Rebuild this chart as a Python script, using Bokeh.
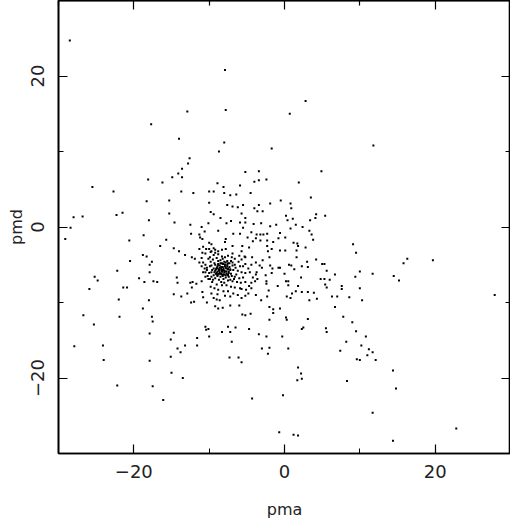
from bokeh.plotting import figure
from bokeh.models import LinearAxis, Range1d, FixedTicker, ColumnDataSource
from bokeh.embed import file_html
from bokeh.resources import INLINE

# ---- data: proper motions (pma, pmd) ----
top_pma = [-28.5, -12.9, -17.7, -14.0, -7.9, 2.8, -7.8, 0.7, -8.0, -1.7, -8.7, 11.8]
top_pmd = [24.7, 15.3, 13.6, 11.7, 20.8, 16.7, 15.5, 15.0, 11.2, 10.4, 10.0, 10.8]

west_pma = [-12.6, -12.8, -13.6, -14.1, -13.6, -14.9, -18.1, -16.2, -25.5, -22.7,
            -13.7, -12.1, -10.0, -18.3, -15.3, -10.0, -21.5, -22.3, -15.3, -28.0,
            -26.8, -18.0, -14.6, -12.5, -10.1, -11.0, -28.4, -18.7, -12.4, -11.3,
            -10.6, -29.1, -20.6, -15.7, -11.2, -10.9, -10.0, -16.5, -14.7, -14.0,
            -13.2, -10.8, -10.4, -11.3, -10.9, -10.5, -18.8, -18.3, -12.3, -11.9,
            -11.0, -10.1, -20.5, -17.6, -11.3, -10.8, -14.5, -17.9, -11.0, -10.5,
            -10.6, -10.3, -22.2, -17.9, -10.8, -10.0, -25.2, -24.8, -19.3, -14.3,
            -10.5, -10.1, -17.4, -18.6, -16.9, -14.2, -12.5, -12.2, -11.7, -11.0,
            -12.3, -25.9, -21.4, -20.9, -10.9, -14.7, -13.7, -12.9, -10.8, -22.0,
            -18.0, -12.4, -12.0, -10.3]
west_pmd = [9.1, 8.4, 7.7, 7.1, 6.6, 6.6, 6.3, 5.9, 5.3, 4.7,
            4.7, 4.5, 4.7, 3.4, 3.5, 3.2, 1.9, 1.6, 1.8, 1.3,
            1.4, 0.9, 0.6, 0.3, 0.5, 0.0, -0.1, -1.1, -0.9, -1.0,
            -0.6, -1.6, -1.8, -1.7, -1.4, -1.6, -2.1, -2.5, -2.8, -3.2,
            -3.7, -2.6, -2.9, -2.9, -3.4, -3.5, -3.7, -3.9, -4.0, -4.2,
            -4.1, -4.2, -4.5, -4.6, -4.7, -4.7, -4.8, -5.0, -5.2, -5.0,
            -5.5, -5.7, -5.8, -6.0, -6.0, -6.1, -6.6, -7.1, -6.8, -6.7,
            -6.6, -6.9, -7.2, -7.3, -7.3, -7.4, -7.4, -7.3, -7.5, -7.2,
            -8.0, -8.2, -8.0, -8.0, -8.6, -8.9, -9.2, -8.8, -9.3, -9.6,
            -9.7, -10.0, -9.9, -10.0]

southwest_pma = [-18.8, -26.7, -21.9, -17.6, -17.5, -25.3, -10.5, -10.4, -10.1, -17.9,
                 -14.7, -15.1, -11.6, -10.0, -27.9, -24.1, -14.2, -13.2, -11.6, -13.8,
                 -15.1, -24.0, -17.9, -15.0, -13.5, -22.2, -17.5, -16.1]
southwest_pmd = [-10.8, -11.7, -11.9, -11.9, -12.5, -12.9, -13.2, -13.6, -13.5, -14.1,
                 -14.0, -14.9, -14.7, -14.5, -15.8, -15.7, -16.1, -15.7, -15.7, -16.6,
                 -17.2, -17.6, -17.7, -19.3, -20.0, -21.0, -21.1, -22.9]

east_pma = [16.3, 19.7, 15.8, 10.0, 11.7, 14.5, 15.2, 10.0, 10.3, 27.9]
east_pmd = [-4.2, -4.4, -4.8, -5.9, -6.2, -6.5, -7.1, -8.1, -9.7, -9.0]

centre_pma = [-5.2, -3.4, 4.9, -4.0, -3.4, -2.4, 1.9, -8.9, -5.9, -8.1,
              -9.4, -8.0, -7.2, -6.4, -4.5, 3.5, -0.5, -7.6, -6.9, -6.2,
              -5.5, -3.4, -1.9, 0.8, -4.0, 0.9, -3.6, -2.9, -9.8, -9.4,
              -5.7, 4.2, 5.4, 0.2, -8.5, -5.2, 1.1, 4.1, 0.4, 3.4,
              -7.1, -7.7, -5.9, -5.2, -4.1, -3.1, -1.1, -1.9, 1.5, 0.8,
              2.4, -8.8, -5.5, 3.3, -6.8, -5.9, -4.4, -3.7, -3.2, -2.8,
              -2.3, -0.6, 3.6, -7.8, -4.9, -3.8, -3.2, -2.3, -0.8, 0.1,
              3.8, -7.9, -4.2, -1.5, 1.2, 1.7, 9.1, -9.7, -6.9, -5.6,
              -2.3, 1.8, -4.7, 2.8, -9.4, -7.8, -1.7, -8.3, -0.6, 0.1,
              1.6, -2.2, -5.7, 9.5, -9.8, -9.2, -8.8, -6.9, -4.3, -2.0,
              1.6, 4.2, -8.2, -6.0, -5.3, -3.8, -2.9, 0.6, 0.9, 3.0,
              5.3, 5.0, -5.2, -1.9, -3.3, 2.3, 3.1, -0.8, -0.6, 1.3,
              -1.6, -3.0, -3.7, 5.6, -1.7, -4.2, -3.8, -2.5, 0.0, 6.7,
              9.4, 2.2, 4.8, 5.3, 6.0, -3.6, -2.4, 0.2, 0.5, 5.4,
              -2.4, 0.5, 1.8, -0.9, 7.6, 7.6, 5.6, -4.7, -5.7, -5.1,
              -2.1, 1.0, 1.5, 2.3, 3.1, 3.9, -3.8, -2.3, 0.3, 6.3,
              7.0, 8.6, -6.2, -3.1, 0.8, 3.3, 4.3, -9.0, -8.6]
centre_pmd = [7.3, 7.4, 7.4, 6.0, 6.2, 6.3, 5.9, 5.8, 5.5, 5.3,
              4.7, 4.5, 4.2, 4.3, 4.5, 3.9, 3.5, 2.9, 2.7, 2.6,
              2.9, 2.9, 3.1, 3.1, 2.5, 2.5, 2.1, 2.1, 2.0, 1.7,
              1.8, 1.7, 1.5, 1.5, 1.2, 1.2, 1.1, 1.2, 0.9, 0.9,
              0.8, 0.5, 0.6, 0.6, 0.4, 0.5, 0.3, 0.1, 0.3, -0.2,
              0.0, -0.5, -0.1, -0.5, -0.9, -0.9, -0.7, -1.0, -1.0, -1.0,
              -0.9, -0.8, -1.0, -1.6, -1.4, -1.5, -1.8, -1.8, -1.5, -1.4,
              -1.7, -2.0, -1.9, -2.0, -2.1, -2.2, -2.3, -2.3, -2.5, -2.5,
              -2.5, -2.5, -2.7, -2.7, -2.8, -2.9, -2.9, -3.0, -3.1, -3.1,
              -3.1, -3.2, -3.2, -3.4, -3.3, -3.4, -3.6, -3.5, -4.0, -4.0,
              -4.0, -4.3, -4.2, -3.8, -3.9, -4.7, -4.4, -5.0, -5.1, -4.6,
              -4.9, -4.9, -4.9, -5.1, -5.1, -5.2, -5.3, -5.4, -5.4, -5.6,
              -5.5, -5.4, -6.0, -5.8, -6.1, -6.7, -6.3, -6.4, -6.2, -6.3,
              -6.6, -6.7, -6.9, -6.9, -7.0, -6.9, -7.2, -7.2, -7.2, -7.6,
              -7.5, -7.7, -7.8, -7.8, -7.8, -8.2, -8.0, -7.8, -8.2, -8.3,
              -8.4, -8.8, -8.5, -8.6, -8.6, -8.7, -9.0, -9.2, -9.2, -9.2,
              -9.2, -9.3, -9.0, -9.7, -9.4, -9.7, -9.5, -9.6, -9.7]

cluster_pma = [-10.0, -9.7, -9.2, -8.8, -9.4, -9.9, -9.0, -8.3, -7.9, -7.5,
               -7.0, -6.6, -6.1, -5.7, -5.2, -9.8, -9.3, -8.8, -8.3, -7.8,
               -7.3, -6.9, -6.6, -5.9, -5.5, -4.8, -4.4, -9.9, -9.4, -8.9,
               -8.3, -7.7, -7.2, -6.8, -6.2, -5.7, -5.2, -4.6, -9.7, -9.1,
               -8.5, -8.0, -7.5, -7.1, -6.6, -6.0, -5.5, -9.7, -9.2, -8.7,
               -8.1, -7.5, -6.9, -6.3, -5.8, -5.2, -9.6, -9.0, -8.3, -7.7,
               -7.1, -6.6, -5.9, -9.8, -9.3, -8.8, -8.1, -7.5, -6.8, -9.7,
               -8.9, -7.9, -7.2, -5.2, -4.8, -4.4, -3.9, -4.4, -5.7, -9.4]
cluster_pmd = [-2.9, -3.2, -3.0, -3.2, -3.7, -4.0, -4.1, -3.9, -4.0, -3.8,
               -4.0, -4.2, -4.6, -4.3, -4.0, -4.6, -4.8, -5.0, -4.8, -4.7,
               -4.8, -4.7, -5.0, -5.2, -5.2, -5.5, -5.0, -5.2, -5.5, -5.5,
               -5.7, -5.5, -5.7, -5.7, -5.8, -6.0, -6.1, -6.0, -6.0, -6.2,
               -6.2, -6.3, -6.4, -6.2, -6.6, -6.8, -6.7, -6.6, -6.8, -7.0,
               -6.9, -7.1, -7.2, -7.3, -7.4, -7.3, -7.3, -7.6, -7.7, -7.7,
               -7.9, -8.0, -8.1, -7.9, -8.1, -8.3, -8.5, -8.5, -8.8, -8.8,
               -8.9, -9.1, -9.2, -9.1, -8.8, -7.4, -7.2, -8.1, -9.4, -9.4]

core_pma = [-9.2, -8.9, -8.6, -8.2, -7.9, -7.6, -7.3,
            -9.1, -8.7, -8.4, -8.1, -7.8, -7.5,
            -9.3, -9.0, -8.6, -8.3, -8.0, -7.7, -7.4,
            -8.9, -8.5, -8.2, -7.8, -7.4, -7.0,
            -8.8, -8.5, -8.0, -7.6, -9.5,
            -10.3, -10.5, -10.2, -9.9, -9.5,
            -8.4, -8.0, -7.2, -6.7, -6.4, -6.5, -6.9, -7.1,
            -8.6, -8.3, -8.8, -9.4, -9.6, -9.7, -8.1, -7.5,
            -9.0, -8.7, -8.4, -8.1, -7.8, -7.5, -7.2,
            -9.2, -8.9, -8.6, -8.3, -8.0, -7.7, -7.4,
            -9.0, -8.7, -8.4, -8.1, -7.8, -7.5,
            -8.8, -8.5, -8.2, -7.9, -7.6]
core_pmd = [-5.0, -5.2, -5.1, -5.3, -5.0, -5.2, -5.3,
            -5.6, -5.8, -5.5, -5.7, -5.9, -5.6,
            -6.0, -6.1, -6.0, -6.3, -6.0, -6.2, -5.9,
            -6.5, -6.6, -6.5, -6.7, -6.6, -6.5,
            -4.5, -4.4, -4.6, -4.5, -4.3,
            -5.4, -6.0, -6.5, -6.9, -7.0,
            -7.3, -7.4, -7.0, -6.9, -6.3, -5.4, -5.1, -4.5,
            -5.4, -5.9, -6.3, -6.4, -5.7, -5.1, -4.9, -4.8,
            -5.4, -5.6, -5.3, -5.5, -5.4, -5.5, -5.6,
            -5.8, -5.9, -5.7, -5.9, -5.8, -5.9, -6.1,
            -6.3, -6.2, -6.2, -6.3, -6.4, -6.3,
            -4.9, -4.8, -4.9, -5.2, -5.0]

south_pma = [-9.2, -8.8, -8.2, -7.2, -6.0, -2.0, -1.5, -0.6, -5.6, -5.2,
             -4.5, -2.0, -1.5, 0.2, 0.3, 3.1, -7.5, -6.5, -4.7, 2.3,
             2.5, 5.5, 5.6, -8.3, -7.2, -3.4, -2.4, -0.3, -7.0, -3.0,
             -2.0, 0.5]
south_pmd = [-10.5, -10.8, -10.7, -10.4, -10.4, -10.6, -10.9, -10.8, -11.6, -11.7,
             -11.5, -12.3, -11.4, -12.0, -12.3, -12.2, -13.2, -13.3, -13.5, -13.5,
             -13.3, -13.4, -13.9, -13.9, -13.9, -14.2, -14.5, -14.5, -15.2, -16.1,
             -16.0, -16.1]

far_south_pma = [-7.3, -6.1, -5.7, -2.2, 1.8, 2.2, 2.3, 1.7, -0.2, -4.3,
                 -0.7, 1.2, 1.8, 6.7, 7.8, 9.0, 9.5, 10.8, 8.2, 10.2,
                 11.2, 7.4, 9.6, 10.0, 11.0, 11.7, 12.1, 14.4, 14.8, 8.3,
                 11.7, 22.8, 14.4]
far_south_pmd = [-17.3, -17.3, -17.9, -16.8, -18.6, -19.4, -20.1, -20.3, -22.3, -22.7,
                 -27.2, -27.5, -27.6, -10.6, -11.9, -12.6, -13.8, -14.5, -15.2, -15.7,
                 -16.2, -16.4, -17.5, -17.6, -17.0, -16.6, -17.6, -19.0, -21.4, -20.4,
                 -24.6, -26.7, -28.3]

major_ticks = [-20, 0, 20]
minor_ticks = [-30, -10, 10, 30]
tick_labels = {-20: "\u221220", 0: "0", 20: "20"}

pma = (top_pma + west_pma + southwest_pma + east_pma + centre_pma
       + cluster_pma + core_pma + south_pma + far_south_pma)
pmd = (top_pmd + west_pmd + southwest_pmd + east_pmd + centre_pmd
       + cluster_pmd + core_pmd + south_pmd + far_south_pmd)
source = ColumnDataSource(data=dict(pma=pma, pmd=pmd))

FONT = "DejaVu Sans"
TXT = "#222222"

p = figure(frame_width=452, frame_height=453,
           x_range=Range1d(-30, 30), y_range=Range1d(-30, 30),
           output_backend="svg", toolbar_location=None,
           x_axis_label="pma", y_axis_label="pmd",
           min_border_left=58, min_border_right=0,
           min_border_top=0, min_border_bottom=68)
p.background_fill_color = "white"
p.border_fill_color = "white"
p.outline_line_color = "black"
p.outline_line_width = 1.6
p.xgrid.visible = False
p.ygrid.visible = False

ticker = FixedTicker(ticks=major_ticks, minor_ticks=minor_ticks)


def style_axis(ax):
    ax.ticker = ticker
    ax.axis_line_color = "black"
    ax.axis_line_width = 1.6
    ax.major_tick_in = 9
    ax.major_tick_out = 0
    ax.minor_tick_in = 5
    ax.minor_tick_out = 0
    ax.major_tick_line_color = "black"
    ax.major_tick_line_width = 1.2
    ax.minor_tick_line_color = "black"
    ax.minor_tick_line_width = 1
    ax.major_label_overrides = tick_labels
    ax.major_label_text_font = FONT
    ax.major_label_text_font_size = "18px"
    ax.major_label_text_color = TXT
    ax.axis_label_text_font = FONT
    ax.axis_label_text_font_size = "16px"
    ax.axis_label_text_font_style = "normal"
    ax.axis_label_text_color = TXT


def tick_only_axis(positions, length):
    # an axis that draws only (minor) tick marks, no labels at all
    ax = LinearAxis(ticker=FixedTicker(ticks=[], minor_ticks=positions))
    ax.axis_line_color = "black"
    ax.axis_line_width = 1.6
    ax.major_tick_in = 0
    ax.major_tick_out = 0
    ax.minor_tick_in = length
    ax.minor_tick_out = 0
    ax.minor_tick_line_color = "black"
    ax.minor_tick_line_width = 1.2
    ax.major_label_standoff = 0
    ax.axis_label_standoff = 0
    return ax


xa = p.xaxis[0]
ya = p.yaxis[0]
style_axis(xa)
style_axis(ya)
xa.major_label_standoff = 11
xa.axis_label_standoff = 19
ya.major_label_orientation = "vertical"
ya.major_label_standoff = 15
ya.axis_label_standoff = 2

for side in ("above", "right"):
    p.add_layout(tick_only_axis(major_ticks, 9), side)
    p.add_layout(tick_only_axis(minor_ticks, 5), side)

p.scatter("pma", "pmd", source=source, marker="square", size=2,
          fill_color="black", line_color=None)

open("out.html", "w").write(file_html(p, INLINE))
